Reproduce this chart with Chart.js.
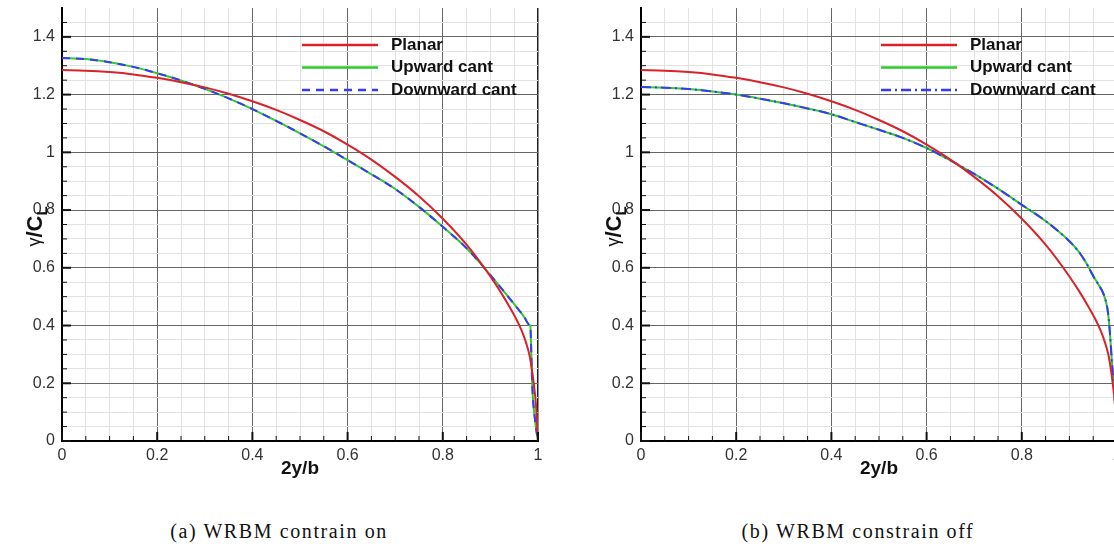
<!DOCTYPE html>
<html>
<head>
<meta charset="utf-8">
<script src="https://cdn.jsdelivr.net/npm/chart.js@4/dist/chart.umd.min.js"></script>
<style>
  html, body { margin: 0; padding: 0; background: #fff; overflow: hidden; }
  body { width: 1114px; height: 550px; position: relative; }
  .panel { position: absolute; top: 0; width: 560px; height: 490px; }
  .caption { position: absolute; top: 520px; width: 400px; text-align: center; letter-spacing: 1.6px;
             font-family: "Liberation Serif", "DejaVu Serif", serif; font-size: 20px; color: #111; }
</style>
</head>
<body>
<div class="panel" style="left:0px"><canvas id="chartOn" width="560" height="490"></canvas></div>
<div class="panel" style="left:579px"><canvas id="chartOff" width="560" height="490"></canvas></div>
<div class="caption" style="left:79px">(a) WRBM contrain on</div>
<div class="caption" style="left:658px">(b) WRBM constrain off</div>
<script>
// series names
const seriesNames = ['Planar', 'Upward cant', 'Downward cant'];

// planar wing (same in both panels)
const planarX = [0, 0.05, 0.1, 0.15, 0.2, 0.25, 0.3, 0.35, 0.4, 0.45, 0.5, 0.55, 0.6, 0.65, 0.7, 0.75, 0.8, 0.85, 0.9, 0.92, 0.94, 0.955, 0.965, 0.975, 0.983, 0.991, 0.996, 1];
const planarY = [1.285, 1.283, 1.278, 1.270, 1.258, 1.243, 1.225, 1.203, 1.177, 1.147, 1.112, 1.073, 1.027, 0.975, 0.915, 0.848, 0.770, 0.680, 0.570, 0.520, 0.465, 0.420, 0.385, 0.340, 0.290, 0.200, 0.120, 0];

// (a) constraint on: upward and downward cant overlap
const onCantX = [0, 0.05, 0.1, 0.15, 0.2, 0.25, 0.3, 0.35, 0.4, 0.45, 0.5, 0.55, 0.6, 0.65, 0.7, 0.75, 0.8, 0.85, 0.887, 0.92, 0.95, 0.97, 0.982, 0.984, 0.986, 0.988, 0.994, 1];
const onCantY = [1.327, 1.323, 1.312, 1.296, 1.274, 1.249, 1.220, 1.187, 1.150, 1.109, 1.066, 1.021, 0.973, 0.924, 0.873, 0.811, 0.742, 0.668, 0.600, 0.535, 0.474, 0.432, 0.402, 0.397, 0.30, 0.19, 0.07, 0];

// (b) constraint off
const offCantX = [0, 0.05, 0.1, 0.15, 0.2, 0.25, 0.3, 0.35, 0.4, 0.45, 0.5, 0.55, 0.6, 0.65, 0.7, 0.75, 0.8, 0.85, 0.9, 0.92, 0.937, 0.95, 0.96, 0.972, 0.98, 0.984, 0.989, 0.995, 1];
const offCantY = [1.226, 1.224, 1.219, 1.211, 1.200, 1.186, 1.170, 1.152, 1.132, 1.105, 1.078, 1.050, 1.015, 0.972, 0.925, 0.874, 0.818, 0.762, 0.692, 0.655, 0.612, 0.572, 0.545, 0.508, 0.457, 0.398, 0.282, 0.15, 0];

const colors = ['#d8232a', '#2ccc2c', '#3a3af2'];

function toPoints(xs, ys) {
    return xs.map((x, i) => ({ x: x, y: ys[i] }));
}

function isMajor(v) {
    return Math.abs(v / 0.2 - Math.round(v / 0.2)) < 1e-6;
}

// tecplot style: ticks inside the frame, legend and y title drawn by hand
const framePlugin = {
    id: 'frame',
    afterDraw(chart) {
        const { ctx, chartArea, scales } = chart;
        const { left, right, top, bottom } = chartArea;
        ctx.save();
        ctx.strokeStyle = '#111';
        scales.x.ticks.forEach(t => {
            const px = scales.x.getPixelForValue(t.value);
            const len = isMajor(t.value) ? 9 : 5;
            ctx.lineWidth = isMajor(t.value) ? 2 : 1;
            ctx.beginPath();
            ctx.moveTo(px, bottom);
            ctx.lineTo(px, bottom - len);
            ctx.stroke();
        });
        scales.y.ticks.forEach(t => {
            if (t.value > 1.45) return;
            const py = scales.y.getPixelForValue(t.value);
            const len = isMajor(t.value) ? 9 : 5;
            ctx.lineWidth = isMajor(t.value) ? 2 : 1;
            ctx.beginPath();
            ctx.moveTo(left, py);
            ctx.lineTo(left + len, py);
            ctx.stroke();
        });

        // legend
        const dsets = chart.data.datasets;
        ctx.textBaseline = 'middle';
        ctx.textAlign = 'left';
        ctx.font = 'bold 17px "Liberation Sans", Arial, sans-serif';
        dsets.forEach((ds, i) => {
            const y = top + 37 + i * 22.5;
            ctx.strokeStyle = ds.borderColor;
            ctx.lineWidth = 2.5;
            ctx.setLineDash(ds.borderDash || []);
            ctx.beginPath();
            ctx.moveTo(left + 240, y);
            ctx.lineTo(left + 316, y);
            ctx.stroke();
            ctx.setLineDash([]);
            ctx.fillStyle = '#111';
            ctx.fillText(ds.label, left + 329, y);
        });

        // y title: gamma / C_L
        ctx.translate(42, (top + bottom) / 2 + 2);
        ctx.rotate(-Math.PI / 2);
        ctx.textBaseline = 'alphabetic';
        ctx.fillStyle = '#111';
        const fG = '18px "Liberation Sans", Arial, sans-serif';
        const fC = 'bold 22px "Liberation Sans", Arial, sans-serif';
        const fL = 'bold 15px "Liberation Sans", Arial, sans-serif';
        ctx.font = fG;
        const wG = ctx.measureText('γ').width;
        ctx.font = fC;
        const w1 = ctx.measureText('/C').width;
        ctx.font = fL;
        const wL = ctx.measureText('L').width;
        let x0 = -(wG + w1 + wL) / 2;
        ctx.font = fG;
        ctx.fillText('γ', x0, -2);
        x0 += wG;
        ctx.font = fC;
        ctx.fillText('/C', x0, 0);
        x0 += w1;
        ctx.font = fL;
        ctx.fillText('L', x0, 5);
        ctx.restore();
    }
};

function makeChart(id, cantX, cantY, downDash) {
    const ctx = document.getElementById(id).getContext('2d');
    return new Chart(ctx, {
        type: 'line',
        data: {
            datasets: [
                { label: seriesNames[0], data: toPoints(planarX, planarY), borderColor: colors[0], borderWidth: 2, order: 0 },
                { label: seriesNames[1], data: toPoints(cantX, cantY), borderColor: colors[1], borderWidth: 2, order: 2 },
                { label: seriesNames[2], data: toPoints(cantX, cantY), borderColor: colors[2], borderWidth: 2, borderDash: downDash, order: 1 }
            ]
        },
        options: {
            responsive: false,
            animation: false,
            datasets: { line: { pointRadius: 0, cubicInterpolationMode: 'monotone', fill: false } },
            layout: { autoPadding: false, padding: { top: 8, right: 22, left: 0, bottom: 0 } },
            plugins: { legend: { display: false }, tooltip: { enabled: false } },
            scales: {
                x: {
                    type: 'linear',
                    min: 0, max: 1,
                    afterFit: s => { s.height = 49; s.paddingLeft = 0; s.paddingRight = 0; },
                    border: { color: '#000', width: 2 },
                    grid: {
                        drawTicks: false,
                        color: c => c.tick && isMajor(c.tick.value) ? (c.tick.value > 0.99 ? '#222' : '#666') : '#e2e2e2',
                        lineWidth: c => c.tick && c.tick.value > 0.99 ? 1.5 : 1
                    },
                    ticks: {
                        stepSize: 0.05, autoSkip: false, maxRotation: 0, padding: 5,
                        color: '#333',
                        font: { family: '"Liberation Sans", Arial, sans-serif', size: 16 },
                        callback: v => isMajor(v) ? String(Math.round(v * 10) / 10) : ''
                    },
                    title: {
                        display: true, text: '2y/b', color: '#111',
                        font: { family: '"Liberation Sans", Arial, sans-serif', size: 19, weight: 'bold' },
                        padding: { top: 0, bottom: 10 }
                    }
                },
                y: {
                    type: 'linear',
                    min: 0, max: 1.5,
                    afterFit: s => { s.width = 62; s.paddingTop = 0; s.paddingBottom = 0; },
                    border: { color: '#000', width: 2 },
                    grid: {
                        drawTicks: false,
                        color: c => c.tick && isMajor(c.tick.value) ? '#666' : '#e2e2e2'
                    },
                    ticks: {
                        stepSize: 0.05, autoSkip: false, padding: 7,
                        color: '#333',
                        font: { family: '"Liberation Sans", Arial, sans-serif', size: 16 },
                        callback: v => v > 1.45 ? null : (isMajor(v) ? String(Math.round(v * 10) / 10) : '')
                    }
                }
            }
        },
        plugins: [framePlugin]
    });
}

makeChart('chartOn', onCantX, onCantY, [8, 6]);
makeChart('chartOff', offCantX, offCantY, [10, 4, 2, 4]);
</script>
</body>
</html>
